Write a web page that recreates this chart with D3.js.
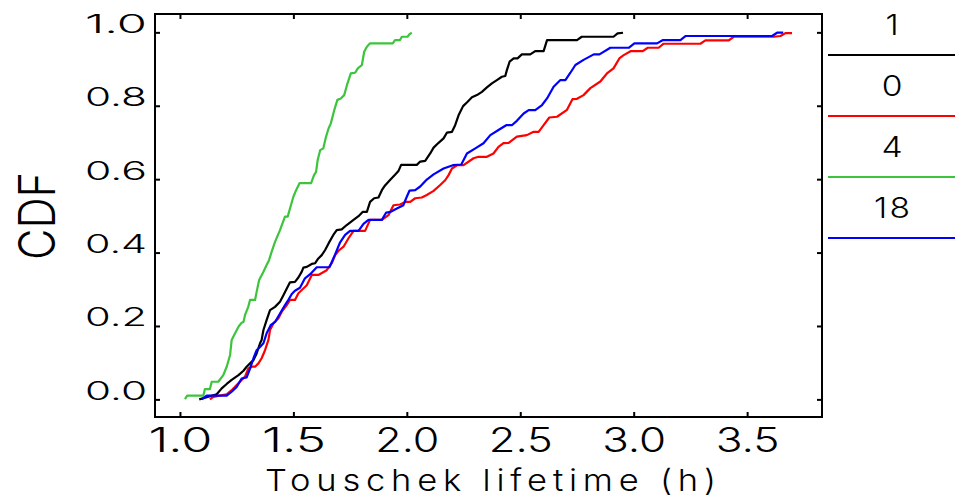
<!DOCTYPE html>
<html>
<head>
<meta charset="utf-8">
<script src="https://cdn.jsdelivr.net/npm/d3@7"></script>
<style>
  body { margin: 0; background: #fff; }
  svg text { font-family: Inter, "Liberation Sans", Arial, sans-serif; font-weight: 300; fill: #000; }
</style>
</head>
<body>
<div id="chart"></div>
<script>
// tick values
const xTicks = [1.0, 1.5, 2.0, 2.5, 3.0, 3.5];
const yTicks = [0.0, 0.2, 0.4, 0.6, 0.8, 1.0];

// legend entries, in legend order
const seriesLabels = ["1", "0", "4", "18"];
const seriesColors = ["#000000", "#ff0000", "#3cc43c", "#0000ff"];

// [lifetime (h), cdf]
const seriesOne = [[1.085,0.000],[1.162,0.014],[1.184,0.030],[1.206,0.042],[1.228,0.053],[1.258,0.066],[1.280,0.078],[1.294,0.089],[1.309,0.098],[1.324,0.107],[1.338,0.125],[1.353,0.153],[1.360,0.162],[1.368,0.189],[1.382,0.216],[1.397,0.243],[1.419,0.252],[1.441,0.266],[1.456,0.284],[1.471,0.302],[1.485,0.319],[1.507,0.320],[1.522,0.332],[1.537,0.348],[1.544,0.359],[1.559,0.361],[1.581,0.369],[1.596,0.371],[1.610,0.384],[1.625,0.393],[1.640,0.407],[1.655,0.425],[1.676,0.448],[1.691,0.461],[1.713,0.463],[1.735,0.475],[1.765,0.489],[1.787,0.499],[1.806,0.511],[1.824,0.511],[1.838,0.538],[1.856,0.548],[1.875,0.550],[1.890,0.570],[1.904,0.583],[1.926,0.598],[1.948,0.612],[1.963,0.622],[1.975,0.639],[2.044,0.639],[2.059,0.648],[2.081,0.650],[2.103,0.670],[2.118,0.686],[2.140,0.699],[2.162,0.711],[2.177,0.727],[2.199,0.729],[2.213,0.747],[2.228,0.774],[2.248,0.799],[2.268,0.811],[2.287,0.823],[2.309,0.829],[2.331,0.838],[2.353,0.850],[2.375,0.861],[2.397,0.870],[2.419,0.879],[2.434,0.881],[2.441,0.897],[2.453,0.920],[2.471,0.929],[2.488,0.929],[2.507,0.940],[2.544,0.940],[2.566,0.949],[2.603,0.949],[2.618,0.979],[2.750,0.979],[2.771,0.988],[2.911,0.988],[2.929,0.997],[2.953,0.999]];

const seriesZero = [[1.132,0.000],[1.147,0.007],[1.206,0.014],[1.228,0.025],[1.250,0.039],[1.272,0.053],[1.287,0.062],[1.301,0.084],[1.316,0.089],[1.331,0.089],[1.346,0.098],[1.360,0.112],[1.375,0.134],[1.390,0.162],[1.397,0.189],[1.412,0.207],[1.434,0.221],[1.449,0.239],[1.471,0.257],[1.485,0.271],[1.507,0.271],[1.522,0.289],[1.544,0.302],[1.559,0.311],[1.581,0.339],[1.610,0.339],[1.647,0.352],[1.669,0.371],[1.684,0.393],[1.699,0.405],[1.721,0.416],[1.743,0.439],[1.765,0.459],[1.816,0.459],[1.838,0.489],[1.890,0.489],[1.919,0.502],[1.941,0.529],[1.970,0.531],[1.993,0.538],[2.015,0.538],[2.037,0.548],[2.066,0.550],[2.088,0.557],[2.118,0.568],[2.147,0.584],[2.169,0.597],[2.184,0.611],[2.199,0.629],[2.221,0.638],[2.250,0.638],[2.294,0.657],[2.316,0.661],[2.353,0.661],[2.382,0.670],[2.404,0.688],[2.426,0.698],[2.449,0.699],[2.485,0.716],[2.529,0.720],[2.559,0.729],[2.581,0.729],[2.603,0.747],[2.628,0.768],[2.662,0.770],[2.706,0.789],[2.730,0.818],[2.750,0.819],[2.779,0.829],[2.809,0.848],[2.853,0.866],[2.882,0.888],[2.911,0.902],[2.938,0.930],[2.956,0.938],[2.988,0.949],[3.040,0.949],[3.062,0.958],[3.110,0.958],[3.132,0.969],[3.294,0.969],[3.316,0.978],[3.419,0.978],[3.441,0.988],[3.618,0.988],[3.647,0.990],[3.669,0.998],[3.698,0.998]];

const seriesFour = [[1.022,0.001],[1.032,0.010],[1.103,0.010],[1.110,0.028],[1.132,0.028],[1.140,0.048],[1.169,0.048],[1.191,0.066],[1.206,0.089],[1.221,0.121],[1.228,0.162],[1.243,0.180],[1.258,0.198],[1.272,0.209],[1.280,0.211],[1.287,0.230],[1.301,0.252],[1.309,0.271],[1.331,0.271],[1.338,0.293],[1.349,0.325],[1.368,0.348],[1.382,0.366],[1.393,0.380],[1.404,0.402],[1.419,0.429],[1.441,0.461],[1.449,0.475],[1.463,0.498],[1.475,0.498],[1.485,0.520],[1.500,0.552],[1.512,0.570],[1.527,0.589],[1.578,0.589],[1.591,0.611],[1.600,0.620],[1.607,0.652],[1.618,0.679],[1.632,0.684],[1.644,0.716],[1.655,0.738],[1.665,0.752],[1.680,0.788],[1.694,0.816],[1.709,0.820],[1.724,0.829],[1.736,0.856],[1.753,0.888],[1.772,0.890],[1.784,0.902],[1.802,0.911],[1.812,0.947],[1.824,0.961],[1.838,0.970],[1.938,0.970],[1.948,0.979],[1.970,0.979],[1.978,0.988],[2.003,0.988],[2.012,0.995],[2.022,0.999]];

const seriesEighteen = [[1.096,0.000],[1.118,0.010],[1.206,0.010],[1.228,0.021],[1.250,0.034],[1.272,0.057],[1.294,0.060],[1.309,0.084],[1.324,0.112],[1.338,0.134],[1.353,0.143],[1.368,0.153],[1.382,0.180],[1.400,0.202],[1.419,0.211],[1.441,0.234],[1.463,0.257],[1.478,0.271],[1.493,0.287],[1.507,0.296],[1.529,0.304],[1.551,0.330],[1.574,0.341],[1.603,0.360],[1.659,0.360],[1.684,0.395],[1.706,0.428],[1.728,0.448],[1.750,0.459],[1.787,0.459],[1.809,0.478],[1.831,0.489],[1.890,0.489],[1.909,0.509],[1.929,0.511],[1.956,0.520],[1.985,0.529],[1.997,0.548],[2.012,0.569],[2.037,0.570],[2.059,0.580],[2.088,0.599],[2.118,0.613],[2.162,0.629],[2.203,0.638],[2.240,0.640],[2.265,0.670],[2.302,0.684],[2.338,0.698],[2.368,0.720],[2.404,0.734],[2.438,0.747],[2.463,0.747],[2.485,0.759],[2.515,0.779],[2.537,0.788],[2.566,0.788],[2.596,0.802],[2.618,0.820],[2.647,0.852],[2.677,0.870],[2.699,0.870],[2.721,0.890],[2.743,0.911],[2.779,0.925],[2.824,0.940],[2.849,0.940],[2.897,0.958],[2.978,0.958],[3.003,0.970],[3.103,0.970],[3.129,0.979],[3.206,0.979],[3.228,0.990],[3.610,0.990],[3.632,0.999],[3.659,0.999]];

const allSeries = [seriesOne, seriesZero, seriesFour, seriesEighteen];

const width = 961, height = 498;
const plot = { left: 155, top: 14, right: 822, bottom: 417 };

const svg = d3.select("#chart").append("svg")
	.attr("width", width)
	.attr("height", height);

const x = d3.scaleLinear().domain([0.89, 3.83]).range([plot.left, plot.right]);
const y = d3.scaleLinear().domain([-0.048, 1.05]).range([plot.bottom, plot.top]);

// frame
svg.append("rect")
	.attr("x", plot.left).attr("y", plot.top)
	.attr("width", plot.right - plot.left).attr("height", plot.bottom - plot.top)
	.attr("fill", "none").attr("stroke", "#000").attr("stroke-width", 2);

function styleAxis(g) {
	g.select(".domain").remove();
	g.selectAll(".tick line").attr("stroke", "#000").attr("stroke-width", 2);
}

// bottom axis with labels
const xAxisG = svg.append("g")
	.attr("transform", `translate(0,${plot.bottom})`)
	.call(d3.axisBottom(x).tickValues(xTicks).tickSize(-5).tickFormat(d3.format(".1f")));
styleAxis(xAxisG);
xAxisG.selectAll(".tick text")
	.attr("y", 35).attr("dy", 0)
	.attr("font-size", 34)
	.attr("textLength", 64).attr("lengthAdjust", "spacingAndGlyphs");

// top axis, ticks only
const topAxisG = svg.append("g")
	.attr("transform", `translate(0,${plot.top})`)
	.call(d3.axisTop(x).tickValues(xTicks).tickSize(-5).tickFormat(""));
styleAxis(topAxisG);

// left axis with labels
const yAxisG = svg.append("g")
	.attr("transform", `translate(${plot.left},0)`)
	.call(d3.axisLeft(y).tickValues(yTicks).tickSize(-5).tickPadding(8).tickFormat(d3.format(".1f")));
styleAxis(yAxisG);
yAxisG.selectAll(".tick text")
	.attr("dy", 0)
	.attr("font-size", 25)
	.attr("textLength", 62).attr("lengthAdjust", "spacingAndGlyphs");

// right axis, ticks only
const rightAxisG = svg.append("g")
	.attr("transform", `translate(${plot.right},0)`)
	.call(d3.axisRight(y).tickValues(yTicks).tickSize(-5).tickFormat(""));
styleAxis(rightAxisG);

// axis titles; glyphs are drawn a little wide, like the original stroke font
svg.append("text")
	.attr("transform", `translate(${(plot.left + plot.right) / 2 + 2},491) scale(1.15,1)`)
	.attr("text-anchor", "middle")
	.attr("font-size", 30)
	.attr("textLength", 451 / 1.15).attr("lengthAdjust", "spacing")
	.text("Touschek lifetime (h)");

svg.append("text")
	.attr("transform", "translate(55,216) rotate(-90)")
	.attr("text-anchor", "middle")
	.attr("font-size", 50)
	.attr("textLength", 88).attr("lengthAdjust", "spacingAndGlyphs")
	.text("CDF");

// curves
const line = d3.line()
	.x(d => x(d[0]))
	.y(d => y(d[1]));

svg.append("g").selectAll("path")
	.data(allSeries)
	.join("path")
	.attr("d", line)
	.attr("fill", "none")
	.attr("stroke", (d, i) => seriesColors[i])
	.attr("stroke-width", 2.2)
	.attr("stroke-linejoin", "round");

// legend
const legend = svg.append("g").attr("transform", "translate(828,0)");
const legendItems = legend.selectAll("g")
	.data(seriesLabels)
	.join("g")
	.attr("transform", (d, i) => `translate(0,${55 + i * 61})`);

legendItems.append("line")
	.attr("x1", 0).attr("x2", 127)
	.attr("stroke", (d, i) => seriesColors[i])
	.attr("stroke-width", 2);

legendItems.append("text")
	.attr("transform", "translate(64,-20) scale(1.2,1)")
	.attr("text-anchor", "middle")
	.attr("font-size", 28)
	.each(function(d) {
		if (d.length > 1) {
			d3.select(this).attr("textLength", 36 / 1.2).attr("lengthAdjust", "spacing");
		}
	})
	.text(d => d);
</script>
</body>
</html>
